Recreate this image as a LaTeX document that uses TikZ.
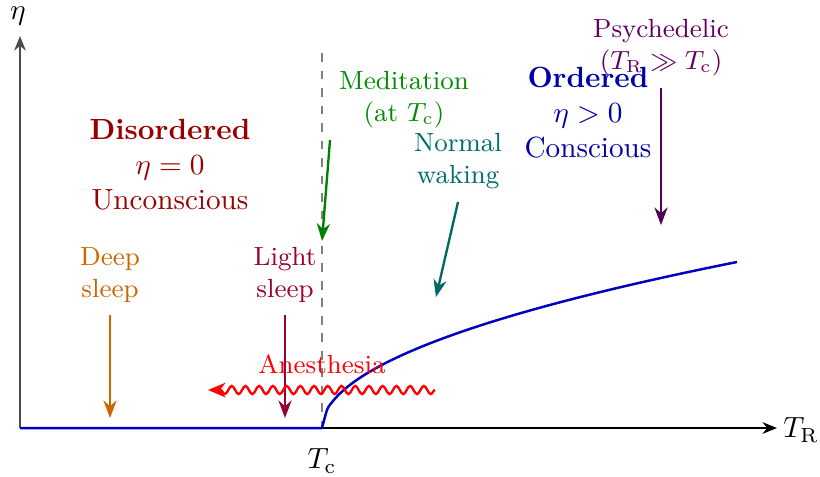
\documentclass[tikz,border=0pt]{standalone}
\usetikzlibrary{arrows.meta,decorations.pathmorphing}
\begin{document}
\begin{tikzpicture}[x=0.34247pt,y=-0.34247pt,
  axis/.style={-{Stealth[length=5pt,width=4pt]}, line width=0.45pt},
  pointer/.style={-{Stealth[length=6pt,width=4.5pt]}, thick},
  lbl/.style={align=center, font=\small, inner sep=0pt},
  regionlbl/.style={align=center, inner sep=0pt}
]
\useasboundingbox (0,0) rectangle (820,476);
% coordinates
\coordinate (O) at (20,428);
\coordinate (xend) at (777,428);
\coordinate (yend) at (20,36);
\coordinate (tc) at (322,428);
\coordinate (tctop) at (322,53);
\coordinate (curveend) at (737,262);
% axes
\draw[gray!60!black, line width=0.45pt, -{Stealth[length=5pt,width=4pt]}] (O) -- (yend);
\draw[axis] (O) -- (xend);
\node[inner sep=0pt] (eta) at (18,16) {$\eta$};
\node[inner sep=0pt] (TR) at (801,430) {$T_{\mathrm{R}}$};
\node[inner sep=0pt] (TC) at (322,461) {$T_{\mathrm{c}}$};
% dashed critical line
\draw[gray, dashed, line width=0.4pt] (tctop) -- (tc);
% order parameter curve
\draw[blue!75!black, line width=0.85pt] (O) -- (tc)
  plot[domain=0:415, samples=80, smooth] ({322+\x},{428-8.15*sqrt(\x)});
% region labels
\node[regionlbl, text=red!60!black] (dis) at (170,165)
  {\textbf{Disordered}\\ $\eta=0$\\ Unconscious};
\node[regionlbl, text=blue!65!black] (ord) at (588,113)
  {\textbf{Ordered}\\ $\eta>0$\\ Conscious};
% state labels
\node[lbl, text=violet!75!black] (psy) at (661,48) {Psychedelic\\ $(T_{\mathrm{R}}\gg T_{\mathrm{c}})$};
\node[lbl, text=green!55!black] (med) at (404,100) {Meditation\\ (at $T_{\mathrm{c}}$)};
\node[lbl, text=teal!85!black] (wak) at (458,161) {Normal\\ waking};
\node[lbl, text=orange!80!black] (deep) at (110,275) {Deep\\ sleep};
\node[lbl, text=purple!80!black] (light) at (285,275) {Light\\ sleep};
\node[lbl, text=red, font=\small] (anes) at (322,364) {Anesthesia};
% arrow endpoints
\coordinate (psyA) at (661,88);  \coordinate (psyB) at (661,225);
\coordinate (medA) at (330,140); \coordinate (medB) at (322,241);
\coordinate (wakA) at (458,202); \coordinate (wakB) at (436,297);
\coordinate (deepA) at (110,315); \coordinate (deepB) at (110,418);
\coordinate (lightA) at (285,315); \coordinate (lightB) at (285,418);
\coordinate (anA) at (435,390); \coordinate (anB) at (208,390);
\draw[pointer, violet!65!black] (psyA) -- (psyB);
\draw[pointer, green!50!black] (medA) -- (medB);
\draw[pointer, teal!80!black] (wakA) -- (wakB);
\draw[pointer, orange!80!black] (deepA) -- (deepB);
\draw[pointer, purple!80!black] (lightA) -- (lightB);
\draw[red, thick, -{Stealth[length=6pt,width=5pt]}, decorate,
  decoration={snake, amplitude=1.4pt, segment length=4.7pt, post length=3pt}] (anA) -- (anB);
\end{tikzpicture}
\end{document}
